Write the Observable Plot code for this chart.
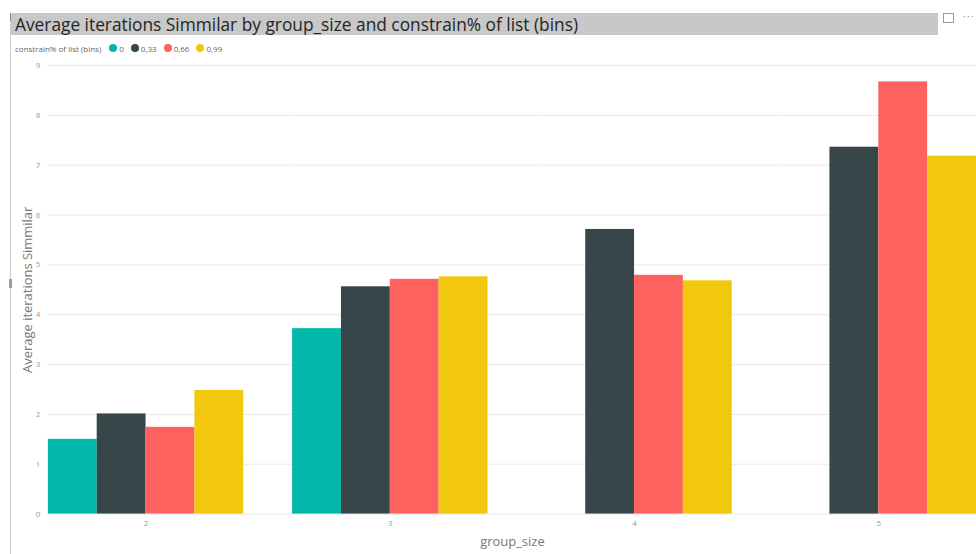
<!DOCTYPE html>
<html>
<head>
<meta charset="utf-8">
<script src="https://cdn.jsdelivr.net/npm/d3@7"></script>
<script src="https://cdn.jsdelivr.net/npm/@observablehq/plot@0.6"></script>
<style>
  html, body { margin: 0; padding: 0; background: #fff; overflow: hidden; width: 976px; height: 554px; }
  body { position: relative; font-family: "Open Sans", "Noto Sans", sans-serif; }
  #edge { position: absolute; left: 10px; top: 13px; width: 1px; height: 541px; background: #cfcfcf; }
  #edgeTop { position: absolute; left: 10px; top: 13px; width: 2px; height: 8px; background: #8a8a8a; }
  #handle { position: absolute; left: 9px; top: 279px; width: 3px; height: 9px; background: #9a9a9a; }
  #titlebar { position: absolute; left: 11px; top: 13px; width: 927px; height: 22px; background: #c8c8c8; }
  #title { position: absolute; left: 15px; top: 13px; height: 22px; line-height: 22px; font-size: 19px;
           color: #252525; white-space: nowrap; transform-origin: left center; }
  #focus { position: absolute; left: 943px; top: 13px; width: 9px; height: 8px; border: 1px solid #9a9a9a; }
  #more { position: absolute; left: 963px; top: 8px; font-size: 11px; color: #9a9a9a; letter-spacing: 1px; }
  #legend { position: absolute; left: 15px; top: 42px; height: 12px; display: flex; align-items: center;
            font-size: 8px; color: #666; white-space: nowrap; }
  #legend .sw { display: inline-block; width: 8px; height: 8px; border-radius: 50%; margin: 0 2px 0 7px; }
  #chart { position: absolute; left: 0; top: 56px; }
  #chart g[aria-label="y-axis label"] text,
  #chart g[aria-label="fx-axis label"] text { font-size: 13px; fill: #777; }
</style>
</head>
<body>
<div id="edge"></div>
<div id="edgeTop"></div>
<div id="handle"></div>
<div id="titlebar"></div>
<div id="title"><span id="titleText">Average iterations Simmilar by group_size and constrain% of list (bins)</span></div>
<div id="focus"></div>
<div id="more">···</div>
<div id="legend"></div>
<div id="chart"></div>
<script>
// Categories
const groupSizes = [2, 3, 4, 5];
const bins = ["0", "0,33", "0,66", "0,99"];
const binColors = ["#01B8AA", "#374649", "#FD625E", "#F2C80F"];

// Average iterations per group_size, one list per constrain% bin (null = no data)
const avgBin0   = [1.50, 3.72, null, null];
const avgBin033 = [2.01, 4.56, 5.71, 7.36];
const avgBin066 = [1.74, 4.71, 4.79, 8.67];
const avgBin099 = [2.48, 4.76, 4.68, 7.18];

const yTicks = [0, 1, 2, 3, 4, 5, 6, 7, 8, 9];

const series = [avgBin0, avgBin033, avgBin066, avgBin099];
const rows = [];
groupSizes.forEach((g, i) => {
  bins.forEach((b, j) => {
    const v = series[j][i];
    if (v != null) rows.push({group: g, bin: b, value: v});
  });
});

// Legend
const legend = document.getElementById("legend");
const lt = document.createElement("span");
lt.textContent = "constrain% of list (bins)";
lt.style.marginRight = "1px";
legend.appendChild(lt);
bins.forEach((b, j) => {
  const sw = document.createElement("span");
  sw.className = "sw";
  sw.style.background = binColors[j];
  legend.appendChild(sw);
  const t = document.createElement("span");
  t.textContent = b;
  legend.appendChild(t);
});

// Title: fit to the title bar's text width
const tt = document.getElementById("titleText");
const tw = tt.getBoundingClientRect().width;
document.getElementById("title").style.transform = `scaleX(${563 / tw})`;

const chart = Plot.plot({
  width: 979,
  height: 498,
  marginTop: 9,
  marginBottom: 39,
  marginLeft: 48,
  marginRight: 0,
  style: {fontFamily: '"Open Sans", "Noto Sans", sans-serif', background: "transparent", overflow: "hidden"},
  fx: {domain: groupSizes, paddingInner: 0.2, paddingOuter: 0, label: "group_size"},
  x: {domain: bins, padding: 0, axis: null},
  y: {domain: [0, 9], label: "Average iterations Simmilar"},
  color: {domain: bins, range: binColors},
  marks: [
    Plot.gridY(yTicks, {stroke: "#e9e9e9", strokeOpacity: 1, insetRight: -49}),
    Plot.barY(rows, {fx: "group", x: "bin", y: "value", fill: "bin"}),
    Plot.axisY(yTicks, {
      tickSize: 0, tickPadding: 8, fontSize: 8, color: "#999", tickFormat: d3.format("d"),
      label: "Average iterations Simmilar", labelAnchor: "center", labelArrow: "none", labelOffset: 26
    }),
    Plot.axisFx({
      anchor: "bottom", tickSize: 0, tickPadding: 6, fontSize: 8, color: "#999",
      label: "group_size", labelAnchor: "center", labelArrow: "none", labelOffset: 32
    })
  ]
});
document.getElementById("chart").appendChild(chart);
</script>
</body>
</html>
